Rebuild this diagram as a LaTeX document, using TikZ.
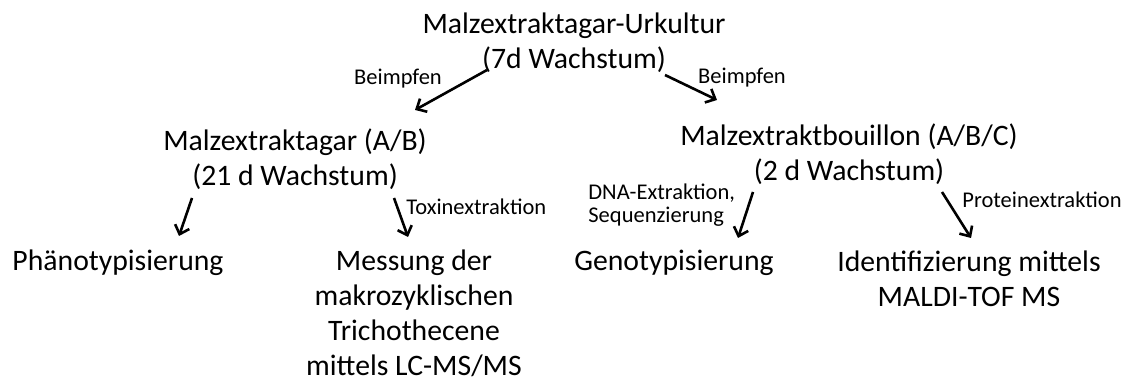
\documentclass[tikz,border=0pt]{standalone}
\usepackage{fontspec}
\setmainfont{Carlito}
\usepackage{tikz}
\usetikzlibrary{arrows.meta}

\tikzset{
	stage/.style={align=center, inner sep=0pt, font=\fontsize{14.85}{17.5}\selectfont},
	method/.style={align=left, inner sep=0pt, font=\fontsize{11.25}{11.5}\selectfont},
	flow/.style={-{Straight Barb[length=4pt, width=7.5pt]}, line width=1.3pt},
}

\begin{document}
\begin{tikzpicture}[x=0.5pt, y=-0.5pt]
		\useasboundingbox (0,0) rectangle (1133,383);
		% cultures
		\node (urkultur) at (574,42.5) [stage] {Malzextraktagar-Urkultur\\(7d Wachstum)};
		\node (agar) at (295,159) [stage] {Malzextraktagar (A/B)\\(21 d Wachstum)};
		\node (bouillon) at (849,154) [stage] {Malzextraktbouillon (A/B/C)\\(2 d Wachstum)};
		% analyses
		\node (pheno) at (118,263) [stage] {Phänotypisierung};
		\node (messung) at (414,313) [stage] {Messung der\\makrozyklischen\\Trichothecene\\mittels LC-MS/MS};
		\node (geno) at (674,263) [stage] {Genotypisierung};
		\node (maldi) at (969,279) [stage] {Identifizierung mittels\\MALDI-TOF MS};
		% labels of the steps
		\node (beimpfenL) at (398,79) [method] {Beimpfen};
		\node (beimpfenR) at (742,78) [method] {Beimpfen};
		\node (toxin) at (406,207) [method, anchor=west] {Toxinextraktion};
		\node (dna) at (588,205.5) [method, anchor=west] {DNA-Extraktion,\\Sequenzierung};
		\node (protein) at (962,200) [method, anchor=west] {Proteinextraktion};
		% arrows
		\draw[flow] ([shift={(-87,27.5)}]urkultur.center) -- ([shift={(120,-49)}]agar.center);
		\draw[flow] ([shift={(91,32.5)}]urkultur.center) -- ([shift={(-132,-54)}]bouillon.center);
		\draw[flow] ([shift={(-103,39)}]agar.center) -- ([shift={(61,-27)}]pheno.center);
		\draw[flow] ([shift={(99,39)}]agar.center) -- ([shift={(-6,-76)}]messung.center);
		\draw[flow] ([shift={(-96,38)}]bouillon.center) -- ([shift={(64,-25)}]geno.center);
		\draw[flow] ([shift={(93,38)}]bouillon.center) -- ([shift={(2,-41)}]maldi.center);
	\end{tikzpicture}
\end{document}
